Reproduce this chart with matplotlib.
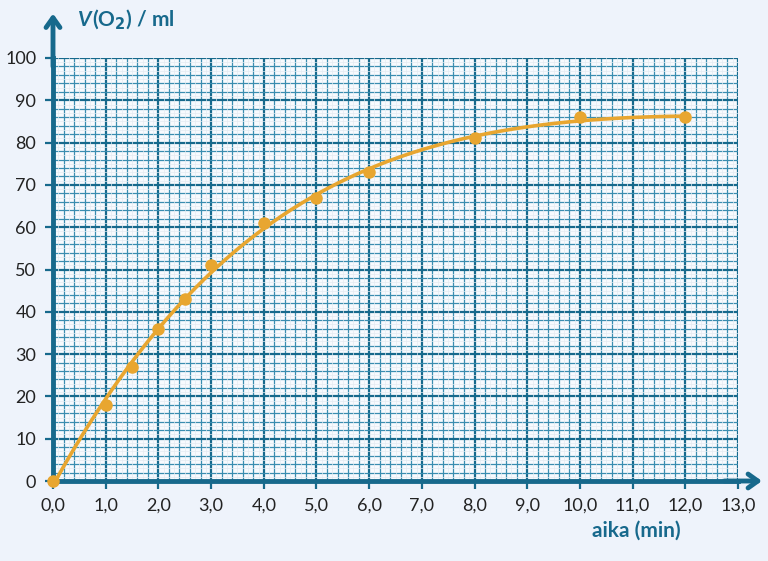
import numpy as np
import matplotlib
matplotlib.use("Agg")
from matplotlib import pyplot as plt
from matplotlib.ticker import MultipleLocator

# measured points
aika = [0, 1, 1.5, 2, 2.5, 3, 4, 5, 6, 8, 10, 12]
tilavuus = [0, 18, 27, 36, 43, 51, 61, 67, 73, 81, 86, 86]

x_ticks = [0, 1, 2, 3, 4, 5, 6, 7, 8, 9, 10, 11, 12, 13]
x_labels = ["0,0", "1,0", "2,0", "3,0", "4,0", "5,0", "6,0", "7,0",
            "8,0", "9,0", "10,0", "11,0", "12,0", "13,0"]
y_ticks = [0, 10, 20, 30, 40, 50, 60, 70, 80, 90, 100]

bg = "#eef3fb"
teal = "#17698c"
minor_c = "#3a8db0"
orange = "#e8a630"

plt.rcParams["font.family"] = ["Lato", "DejaVu Sans"]

fig = plt.figure(figsize=(7.68, 5.61), dpi=100, facecolor=bg)
ax = fig.add_axes([53/768, 80/561, 685/768, 423/561])
ax.set_facecolor("#f7fafe")
ax.set_xlim(0, 13)
ax.set_ylim(0, 100)

# millimetre paper grid
for v in np.arange(0.1, 13, 0.2):
    ax.axvline(v, color="#e3ebf2", lw=0.5, zorder=1)
for v in np.arange(1, 100, 2):
    ax.axhline(v, color="#e3ebf2", lw=0.5, zorder=1)
ax.xaxis.set_major_locator(MultipleLocator(1))
ax.xaxis.set_minor_locator(MultipleLocator(0.2))
ax.yaxis.set_major_locator(MultipleLocator(10))
ax.yaxis.set_minor_locator(MultipleLocator(2))
ax.grid(which="minor", color=minor_c, lw=0.9, zorder=2)
ax.grid(which="major", color=teal, lw=1.6, zorder=2)
ax.set_axisbelow(True)

ax.set_xticks(x_ticks)
ax.set_xticklabels(x_labels)
ax.set_yticks(y_ticks)
ax.tick_params(which="major", length=6, width=1.6, color=teal,
               labelsize=13, labelcolor="#222222", pad=6)
ax.tick_params(which="minor", length=0)

for s in ["top", "right"]:
    ax.spines[s].set_visible(False)
for s in ["left", "bottom"]:
    ax.spines[s].set_color(teal)
    ax.spines[s].set_linewidth(3.5)
    ax.spines[s].set_zorder(5)

# axis arrows
ax.annotate("", xy=(0, 1.105), xytext=(0, 0.98), xycoords="axes fraction",
            arrowprops=dict(arrowstyle="->,head_length=0.7,head_width=0.5",
                            color=teal, lw=3.5, shrinkA=0, shrinkB=0))
ax.annotate("", xy=(1.035, 0), xytext=(0.98, 0), xycoords="axes fraction",
            arrowprops=dict(arrowstyle="->,head_length=0.7,head_width=0.5",
                            color=teal, lw=3.5, shrinkA=0, shrinkB=0))

# fitted curve through the measurements
k = np.polyfit(aika, tilavuus, 4)
xs = np.linspace(0, 12, 200)
ax.plot(xs, np.polyval(k, xs), color=orange, lw=2.6, zorder=6, clip_on=False)
ax.plot(aika, tilavuus, "o", color=orange, ms=8, zorder=7, clip_on=False)

tv = fig.text(78/768, 1 - 20/561, "V", color=teal, fontsize=15,
              fontweight="bold", fontstyle="italic", va="center", ha="left")
ax.annotate(r"(O$_\mathbf{2}$) / ml", xy=(1.0, 0.5), xycoords=tv,
            color=teal, fontsize=15, fontweight="bold", va="center", ha="left")
fig.text(636/768, 1 - 531/561, "aika (min)", color=teal, fontsize=15,
         fontweight="bold", va="center", ha="center")

plt.savefig("out.png", dpi=100, facecolor=bg)
